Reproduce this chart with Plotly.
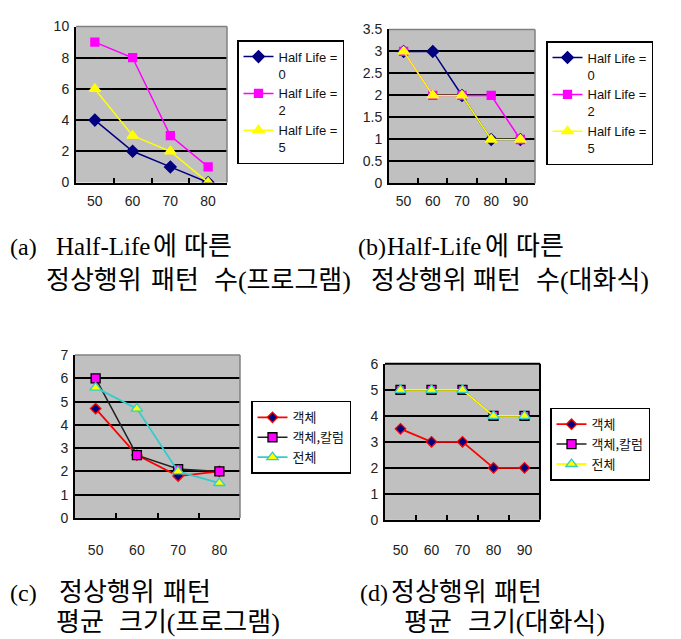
import plotly.graph_objects as go

W, H = 681, 639

# ---------------- data ----------------
cats_a = ["50", "60", "70", "80"]
hl0_a = [4, 2, 1, 0]
hl2_a = [9, 8, 3, 1]
hl5_a = [6, 3, 2, 0]

cats_b = ["50", "60", "70", "80", "90"]
hl0_b = [3, 3, 2, 1, 1]
hl2_b = [3, 2, 2, 2, 1]
hl5_b = [3, 2, 2, 1, 1]

cats_c = ["50", "60", "70", "80"]
obj_c = [4.7, 2.7, 1.8, 2.0]
objcol_c = [6.0, 2.7, 2.1, 2.0]
all_c = [5.6, 4.7, 2.0, 1.5]

cats_d = ["50", "60", "70", "80", "90"]
obj_d = [3.5, 3, 3, 2, 2]
objcol_d = [5, 5, 5, 4, 4]
all_d = [5, 5, 5, 4, 4]

hl_names = ["Half Life =<br>0", "Half Life =<br>2", "Half Life =<br>5"]
kr_names = ["객체", "객체,칼럼", "전체"]

NAVY, MAG, YEL, RED, CYAN = "#000080", "#FF00FF", "#FFFF00", "#FF0000", "#33CCCC"

fig = go.Figure()

def px_x(v):
    return v / W

def px_y(v):
    return 1 - v / H

# panel geometry (pixels): left, right, top, bottom
panels = {
    1: (76, 227, 19, 179),
    2: (389, 535, 22, 180),
    3: (75, 240, 356, 523),
    4: (385, 540, 365, 525),
}

def add(ax, cats, ys, name, legend, color, symbol, mcolor, mline, size, lw=1.5):
    fig.add_trace(go.Scatter(
        x=cats, y=ys, name=name, mode="lines+markers",
        xaxis="x" if ax == 1 else f"x{ax}", yaxis="y" if ax == 1 else f"y{ax}",
        line=dict(color=color, width=lw),
        marker=dict(symbol=symbol, size=size, color=mcolor, line=dict(color=mline, width=1.3)),
        legend=legend,
    ))

# (a)
add(1, cats_a, hl0_a, hl_names[0], "legend", NAVY, "diamond", NAVY, NAVY, 9)
add(1, cats_a, hl2_a, hl_names[1], "legend", MAG, "square", MAG, MAG, 8)
add(1, cats_a, hl5_a, hl_names[2], "legend", YEL, "triangle-up", YEL, YEL, 10)
# (b)
add(2, cats_b, hl0_b, hl_names[0], "legend2", NAVY, "diamond", NAVY, NAVY, 9)
add(2, cats_b, hl2_b, hl_names[1], "legend2", MAG, "square", MAG, MAG, 8)
add(2, cats_b, hl5_b, hl_names[2], "legend2", YEL, "triangle-up", YEL, YEL, 10)
# (c)
add(3, cats_c, obj_c, kr_names[0], "legend3", RED, "diamond", NAVY, RED, 8, 1.8)
add(3, cats_c, objcol_c, kr_names[1], "legend3", "#202020", "square", MAG, "#000000", 9, 1.5)
add(3, cats_c, all_c, kr_names[2], "legend3", CYAN, "triangle-up", YEL, CYAN, 10, 1.8)
# (d)
add(4, cats_d, obj_d, kr_names[0], "legend4", RED, "diamond", NAVY, RED, 8, 1.8)
add(4, cats_d, objcol_d, kr_names[1], "legend4", "#202020", "square", MAG, "#000000", 9, 1.5)
add(4, cats_d, all_d, kr_names[2], "legend4", YEL, "triangle-up", YEL, CYAN, 10, 1.8)

yranges = {1: (0, 10, 2), 2: (0, 3.5, 0.5), 3: (0, 7, 1), 4: (0, 6, 1)}
ncats = {1: 4, 2: 5, 3: 4, 4: 5}
xstand = {1: 5, 2: 4, 3: 18, 4: 16}

tickfont = dict(family="Liberation Sans", size=14, color="#222222")
layout = {}
for k, (l, r, t, b) in panels.items():
    xs = "xaxis" if k == 1 else f"xaxis{k}"
    ys = "yaxis" if k == 1 else f"yaxis{k}"
    yref = "y" if k == 1 else f"y{k}"
    xref = "x" if k == 1 else f"x{k}"
    lo, hi, dt = yranges[k]
    layout[xs] = dict(
        domain=[px_x(l), px_x(r)], anchor=yref, type="category",
        range=[-0.5, ncats[k] - 0.5], showgrid=False, zeroline=False,
        showline=True, linecolor="black", linewidth=2,
        ticks="inside", ticklen=5, tickwidth=1.5, tickcolor="black",
        tickson="boundaries", tickfont=tickfont, ticklabelstandoff=xstand[k],
        fixedrange=True,
    )
    layout[ys] = dict(
        domain=[px_y(b), px_y(t)], anchor=xref,
        range=[lo, hi], dtick=dt, tick0=0, showgrid=True,
        gridcolor="black", gridwidth=1.5, zeroline=False,
        showline=True, linecolor="black", linewidth=2,
        ticks="", tickfont=tickfont, ticklabelstandoff=2, fixedrange=True,
    )

leg_common = dict(
    xanchor="left", yanchor="top", bgcolor="white",
    bordercolor="black", borderwidth=1.5,
    font=dict(family="Liberation Sans, Noto Sans CJK KR", size=13, color="#111111"),
    itemwidth=30, tracegroupgap=0,
)
layout["legend"] = dict(x=px_x(237), y=px_y(33), valign="top", **leg_common)
layout["legend2"] = dict(x=px_x(546), y=px_y(34), valign="top", **leg_common)
leg_kr = dict(leg_common)
leg_kr["font"] = dict(family="Noto Sans CJK KR", size=13, color="#111111")
layout["legend3"] = dict(x=px_x(251), y=px_y(403), **leg_kr)
layout["legend4"] = dict(x=px_x(550), y=px_y(410), **leg_kr)

# top/right plot-area borders
shapes = []
for k, (l, r, t, b) in panels.items():
    col = "black" if k == 4 else "#808080"
    wid = 2 if k == 4 else 1.5
    shapes.append(dict(type="line", xref="paper", yref="paper",
                       x0=px_x(l), x1=px_x(r), y0=px_y(t), y1=px_y(t),
                       line=dict(color=col, width=wid), layer="above"))
    shapes.append(dict(type="line", xref="paper", yref="paper",
                       x0=px_x(r), x1=px_x(r), y0=px_y(t), y1=px_y(b),
                       line=dict(color=col, width=wid), layer="above"))

# captions: (text, left x px, center y px, font size)
captions = [
    ("(a)", 9, 245, 24), ("Half-Life", 55, 245, 25), ("에", 152, 245, 26), ("따른", 183, 245, 26),
    ("정상행위", 45, 280, 26), ("패턴", 150, 280, 26), ("수(프로그램)", 213, 280, 26),
    ("(b)", 357, 245, 24), ("Half-Life", 386, 245, 25), ("에", 484, 245, 26), ("따른", 515, 245, 26),
    ("정상행위", 370, 280, 26), ("패턴", 472, 280, 26), ("수(대화식)", 535, 280, 26),
    ("(c)", 9, 600, 24), ("정상행위", 58, 600, 26), ("패턴", 162, 600, 26),
    ("평균", 55, 630, 26), ("크기(프로그램)", 118, 630, 26),
    ("(d)", 359, 600, 24), ("정상행위", 390, 600, 26), ("패턴", 493, 600, 26),
    ("평균", 403, 630, 26), ("크기(대화식)", 467, 630, 26),
]
annotations = []
for txt, x, y, fs in captions:
    annotations.append(dict(
        text=txt, x=px_x(x), y=px_y(y), xref="paper", yref="paper",
        xanchor="left", yanchor="middle", showarrow=False, borderpad=0,
        font=dict(family="Liberation Serif, Noto Sans CJK KR", size=fs, color="black"),
    ))

fig.update_layout(
    width=W, height=H, margin=dict(l=0, r=0, t=0, b=0),
    paper_bgcolor="white", plot_bgcolor="#C0C0C0",
    shapes=shapes, annotations=annotations, **layout,
)

fig.write_html("out.html", config={"displayModeBar": False},
               post_script="document.body.style.margin='0';document.body.style.overflow='hidden';")
